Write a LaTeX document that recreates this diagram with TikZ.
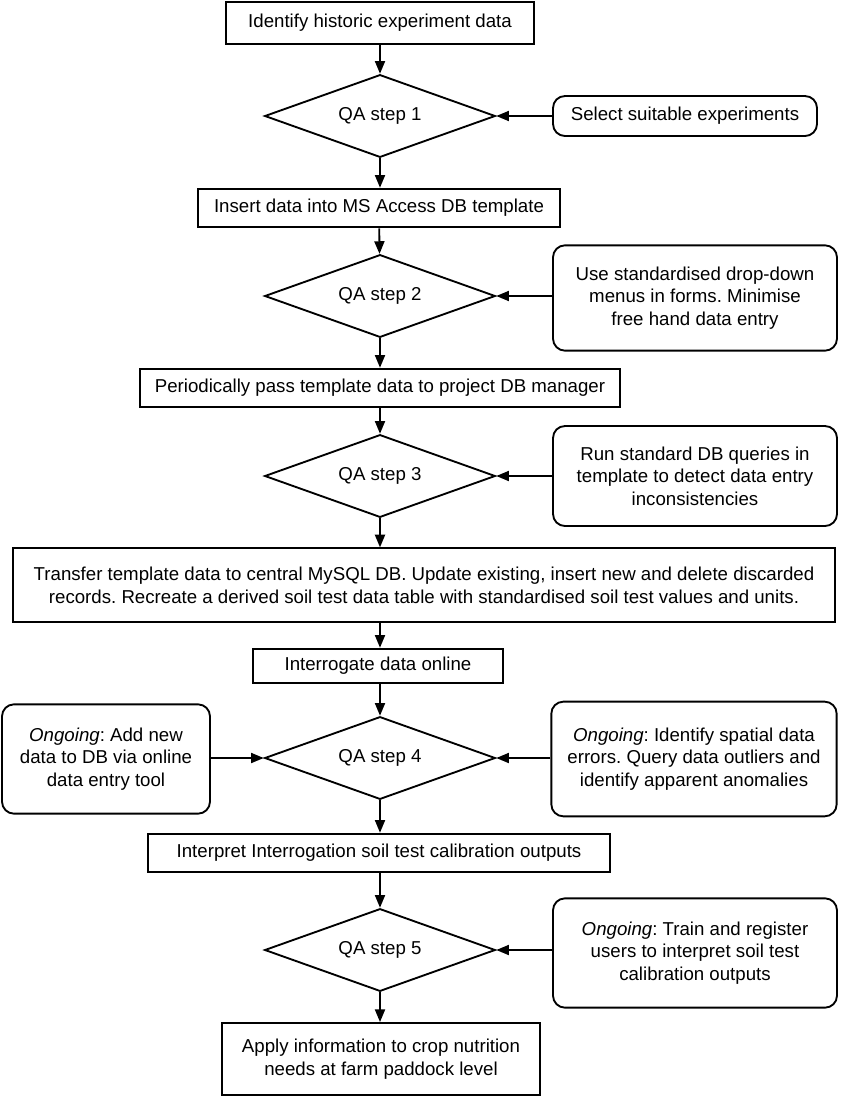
\documentclass[tikz,border=0pt]{standalone}
\usepackage{fontspec}
\setmainfont{Liberation Sans}
\usetikzlibrary{arrows.meta,shapes.geometric}
\frenchspacing

\begin{document}
\begin{tikzpicture}[x=0.75pt,y=-0.75pt,line width=1.4pt,
  every node/.style={font=\fontsize{14}{17}\selectfont,align=center},
  stepbox/.style={draw,minimum height=29pt},
  check/.style={draw,diamond,aspect=2.8,inner sep=0pt,minimum width=173pt,minimum height=62pt},
  note/.style={draw,rounded corners=9pt,minimum width=213pt},
  flow/.style={-{Triangle[length=9.5pt,width=7.5pt]}}]
\useasboundingbox (0,0) rectangle (850,1097);
\node[stepbox,minimum width=231pt,minimum height=31pt] (id) at (380,23) {Identify historic experiment data};
\node[check] (qa1) at (380,116) {QA step 1};
\node[note,minimum width=198pt,minimum height=30pt] (sel) at (685,116) {Select suitable experiments};
\node[stepbox,minimum width=271pt] (ins) at (379,208) {Insert data into MS Access DB template};
\node[check] (qa2) at (380,296) {QA step 2};
\node[note,minimum height=79pt] (menu) at (695,298) {Use standardised drop-down\\menus in forms. Minimise\\free hand data entry};
\node[stepbox,minimum width=360pt] (pass) at (380,388) {Periodically pass template data to project DB manager};
\node[check] (qa3) at (380,476) {QA step 3};
\node[note,minimum height=75pt] (query) at (695,476) {Run standard DB queries in\\template to detect data entry\\inconsistencies};
\node[stepbox,minimum width=616pt,minimum height=55pt] (trans) at (424,585) {Transfer template data to central MySQL DB. Update existing, insert new and delete discarded\\records. Recreate a derived soil test data table with standardised soil test values and units.};
\node[stepbox,minimum width=187pt,minimum height=26pt] (inter) at (378,666) {Interrogate data online};
\node[check] (qa4) at (380,758) {QA step 4};
\node[note,minimum width=156pt,minimum height=82pt] (add) at (106,759) {\textit{Ongoing}: Add new\\data to DB via online\\data entry tool};
\node[note,minimum width=214pt,minimum height=86pt] (spat) at (694,759) {\textit{Ongoing}: Identify spatial data\\errors. Query data outliers and\\identify apparent anomalies};
\node[stepbox,minimum width=346pt] (interp) at (379,853) {Interpret Interrogation soil test calibration outputs};
\node[check] (qa5) at (380,950) {QA step 5};
\node[note,minimum height=82pt] (train) at (695,953) {\textit{Ongoing}: Train and register\\users to interpret soil test\\calibration outputs};
\node[stepbox,minimum width=239pt,minimum height=54pt] (apply) at (381,1059) {Apply information to crop nutrition\\needs at farm paddock level};
% main chain
\draw[flow] (id) -- (qa1);
\draw[flow] (qa1) -- (qa1|-ins.north);
\draw[flow] (ins) -- (qa2);
\draw[flow] (qa2) -- (qa2|-pass.north);
\draw[flow] (pass) -- (qa3);
\draw[flow] (qa3) -- (qa3|-trans.north);
\draw[flow] (qa3|-trans.south) -- (qa3|-inter.north);
\draw[flow] (qa4|-inter.south) -- (qa4);
\draw[flow] (qa4) -- (qa4|-interp.north);
\draw[flow] (qa5|-interp.south) -- (qa5);
\draw[flow] (qa5) -- (qa5|-apply.north);
% side inputs
\draw[flow] (sel.west|-qa1) -- (qa1);
\draw[flow] (menu.west|-qa2) -- (qa2);
\draw[flow] (query.west|-qa3) -- (qa3);
\draw[flow] (add.east|-qa4) -- (qa4);
\draw[flow] (spat.west|-qa4) -- (qa4);
\draw[flow] (train.west|-qa5) -- (qa5);
\end{tikzpicture}
\end{document}
